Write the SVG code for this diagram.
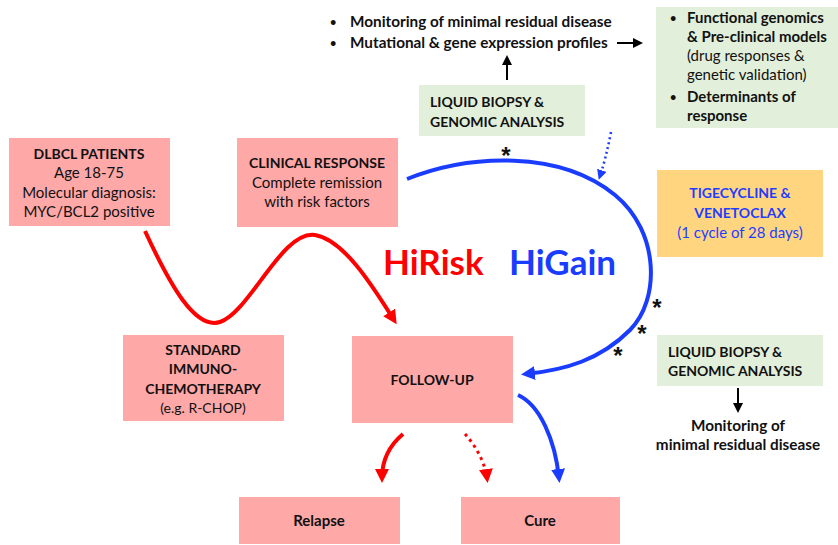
<svg xmlns="http://www.w3.org/2000/svg" width="838" height="545" viewBox="0 0 838 545">
<style>
text{font-family:Lato,"Liberation Sans",sans-serif;font-size:14px;fill:#111}
.b{font-weight:bold}
.c{text-anchor:middle}
.m{font-size:15.3px}
.f{font-size:15px}
.pink{fill:#ffa8a8}
.green{fill:#e2efda}
.orange{fill:#ffd57f}
.blue{fill:#1f3dff}
.big{font-size:35px;font-weight:bold}
.red{fill:#ff0000}
.bl{fill:#1a3cff}
.ast{font-family:"Liberation Sans",sans-serif;font-size:24px;font-weight:bold;text-anchor:middle;fill:#111}
.dot{font-size:11px}
</style>
<defs>
<marker id="ar" markerUnits="userSpaceOnUse" markerWidth="16" markerHeight="14" refX="9" refY="7" orient="auto"><path d="M0,0 L14,7 L0,14 z" fill="#ff0000"/></marker>
<marker id="ab" markerUnits="userSpaceOnUse" markerWidth="16" markerHeight="14" refX="9" refY="7" orient="auto"><path d="M0,0 L14,7 L0,14 z" fill="#1a3cff"/></marker>
<marker id="abs" markerUnits="userSpaceOnUse" markerWidth="12" markerHeight="10" refX="6" refY="5" orient="auto"><path d="M0,0 L10,5 L0,10 z" fill="#1a3cff"/></marker>
<marker id="ak" markerUnits="userSpaceOnUse" markerWidth="12" markerHeight="10" refX="5" refY="5" orient="auto"><path d="M0,0 L10,5 L0,10 z" fill="#000"/></marker>
</defs>

<g id="dlbcl">
<rect class="pink" x="9" y="138" width="161" height="88"/>
<text class="b c" x="89" y="159">DLBCL PATIENTS</text>
<text class="c f" x="89" y="178">Age 18-75</text>
<text class="c f" x="89" y="198">Molecular diagnosis:</text>
<text class="c f" x="89" y="217">MYC/BCL2 positive</text>
</g>

<g id="clinical">
<rect class="pink" x="237" y="138" width="161" height="89"/>
<text class="b c" x="317" y="168">CLINICAL RESPONSE</text>
<text class="c f" x="317" y="188">Complete remission</text>
<text class="c f" x="317" y="207">with risk factors</text>
</g>

<g id="standard">
<rect class="pink" x="123" y="335" width="161" height="86"/>
<text class="b c" x="203" y="355">STANDARD</text>
<text class="b c" x="203" y="374">IMMUNO-</text>
<text class="b c" x="203" y="394">CHEMOTHERAPY</text>
<text class="c" x="203" y="413">(e.g. R-CHOP)</text>
</g>

<g id="followup">
<rect class="pink" x="352" y="336" width="161" height="87"/>
<text class="b c" x="432" y="385">FOLLOW-UP</text>
</g>

<g id="relapse">
<rect class="pink" x="239" y="497" width="161" height="47"/>
<text class="b c f" x="319" y="526">Relapse</text>
</g>

<g id="cure">
<rect class="pink" x="461" y="497" width="159" height="47"/>
<text class="b c f" x="540" y="526">Cure</text>
</g>

<g id="tigecycline">
<rect class="orange" x="657" y="170" width="166" height="87"/>
<text class="b c blue" x="740" y="198">TIGECYCLINE &amp;</text>
<text class="b c blue" x="740" y="218">VENETOCLAX</text>
<text class="c blue f" x="740" y="238">(1 cycle of 28 days)</text>
</g>

<g id="liquid-top">
<rect class="green" x="419" y="85" width="166" height="51"/>
<text class="b" x="430" y="107">LIQUID BIOPSY  &amp;</text>
<text class="b" x="430" y="127">GENOMIC ANALYSIS</text>
</g>

<g id="liquid-bottom">
<rect class="green" x="657" y="335" width="166" height="51"/>
<text class="b" x="668" y="357">LIQUID BIOPSY  &amp;</text>
<text class="b" x="668" y="376">GENOMIC ANALYSIS</text>
</g>

<g id="monitoring-top">
<text class="b dot" x="330" y="26">•</text>
<text class="b m" x="350" y="27">Monitoring of minimal residual disease</text>
<text class="b dot" x="330" y="47">•</text>
<text class="b m" x="350" y="48">Mutational &amp; gene expression profiles</text>
</g>

<g id="functional">
<rect class="green" x="656" y="7" width="182" height="121"/>
<text class="b dot" x="670" y="22">•</text>
<text class="b f" x="687" y="23">Functional genomics</text>
<text class="b f" x="687" y="42">&amp; Pre-clinical models</text>
<text class="f" x="687" y="61">(drug responses &amp;</text>
<text class="f" x="687" y="80">genetic validation)</text>
<text class="b dot" x="670" y="101">•</text>
<text class="b f" x="687" y="102">Determinants of</text>
<text class="b f" x="687" y="121">response</text>
</g>

<g id="monitoring-bottom">
<text class="b c m" x="738" y="431">Monitoring of</text>
<text class="b c m" x="738" y="450">minimal residual disease</text>
</g>

<g id="labels">
<text class="big red" x="383" y="275">HiRisk</text>
<text class="big bl" x="509" y="275">HiGain</text>
<text class="ast" x="506" y="164">*</text>
<text class="ast" x="657" y="316">*</text>
<text class="ast" x="642" y="342">*</text>
<text class="ast" x="618" y="364">*</text>
</g>

<g id="connectors" fill="none">
<path d="M145,231 C170,285 195,330 220,322 C250,312 282,230 315,235 C345,240 375,290 394,320" stroke="#ff0000" stroke-width="4" marker-end="url(#ar)"/>
<path d="M407,179 C470,154 560,150 615,195 C660,232 660,300 630,330 C600,360 565,370 526,374" stroke="#1a3cff" stroke-width="4" marker-end="url(#ab)"/>
<path d="M611,132 Q606,158 600,176" stroke="#1a3cff" stroke-width="2.5" stroke-dasharray="2 3" marker-end="url(#abs)"/>
<path d="M507,80 L507,60" stroke="#000" stroke-width="2" marker-end="url(#ak)"/>
<path d="M617,43 L638,43" stroke="#000" stroke-width="2" marker-end="url(#ak)"/>
<path d="M738,388 L738,408" stroke="#000" stroke-width="2" marker-end="url(#ak)"/>
<path d="M403,434 C390,445 382,460 382,478" stroke="#ff0000" stroke-width="4" marker-end="url(#ar)"/>
<path d="M465,434 C475,445 485,462 487,478" stroke="#ff0000" stroke-width="3" stroke-dasharray="3 4" marker-end="url(#ar)"/>
<path d="M518,395 C540,405 555,440 559,478" stroke="#1a3cff" stroke-width="4" marker-end="url(#ab)"/>
</g>
</svg>
